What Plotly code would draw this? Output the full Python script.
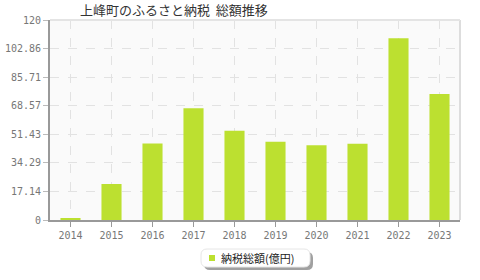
import plotly.graph_objects as go

years = ["2014", "2015", "2016", "2017", "2018", "2019", "2020", "2021", "2022", "2023"]
values = [0.8, 21.6, 45.9, 67.0, 53.6, 47.0, 44.8, 45.8, 109.0, 75.6]
ytick_vals = [0, 17.14, 34.29, 51.43, 68.57, 85.71, 102.86, 120]
ytick_text = ["0", "17.14", "34.29", "51.43", "68.57", "85.71", "102.86", "120"]
series_name = "納税総額(億円)"
title_text = "上峰町のふるさと納税  総額推移"
bar_color = "#bce030"

W, H = 480, 280
L, R, T, B = 50, 20, 20, 60
pw, ph = W - L - R, H - T - B

def px_x(x):
    return (x - L) / pw

def px_y(y):
    return (H - B - y) / ph

fig = go.Figure()
fig.add_trace(go.Bar(
    x=years, y=values, name=series_name,
    marker=dict(color=bar_color, line=dict(width=0)),
    width=0.49, showlegend=False,
))

def paper_path(x0, y0, x1, y1, r):
    X0, X1 = px_x(x0), px_x(x1)
    Y0, Y1 = px_y(y0), px_y(y1)
    rx = r / pw
    ry = r / ph
    return (f"M {X0+rx},{Y0} L {X1-rx},{Y0} Q {X1},{Y0} {X1},{Y0-ry} "
            f"L {X1},{Y1+ry} Q {X1},{Y1} {X1-rx},{Y1} L {X0+rx},{Y1} "
            f"Q {X0},{Y1} {X0},{Y1+ry} L {X0},{Y0-ry} Q {X0},{Y0} {X0+rx},{Y0} Z")

shapes = [
    dict(type="path", xref="paper", yref="paper", path=paper_path(204, 252, 313, 270, 6),
         fillcolor="#a0a0a0", line=dict(width=0), layer="above"),
    dict(type="path", xref="paper", yref="paper", path=paper_path(201, 249, 310, 267, 6),
         fillcolor="#ffffff", line=dict(color="#e6e6e6", width=1), layer="above"),
    dict(type="rect", xref="paper", yref="paper",
         x0=px_x(209), x1=px_x(215), y0=px_y(255), y1=px_y(261),
         fillcolor=bar_color, line=dict(width=0), layer="above"),
    dict(type="line", xref="paper", yref="paper", x0=1, x1=1, y0=0, y1=1,
         line=dict(color="#dddddd", width=2)),
    dict(type="line", xref="paper", yref="paper", x0=0, x1=1, y0=1, y1=1,
         line=dict(color="#e4e4e4", width=2)),
]

fig.update_layout(
    width=W, height=H,
    margin=dict(l=L, r=R, t=T, b=B, autoexpand=False),
    paper_bgcolor="#ffffff",
    plot_bgcolor="#fafafa",
    title=dict(text=title_text, xref="container", yref="container",
               x=80 / W, xanchor="left", y=1 - 10 / H, yanchor="middle",
               font=dict(family="Noto Sans CJK JP", size=13, color="#333333")),
    font=dict(family="Noto Sans CJK JP", size=10, color="#666666"),
    showlegend=False,
    shapes=shapes,
    annotations=[dict(text=series_name, xref="paper", yref="paper",
                      x=px_x(219), xanchor="left", y=px_y(258), yanchor="middle",
                      showarrow=False,
                      font=dict(family="Noto Sans CJK JP", size=11, color="#222222"))],
)

fig.update_xaxes(
    type="category", range=[-0.5, 9.5],
    showgrid=True, gridcolor="#e2e2e2", griddash="dash", gridwidth=1,
    showline=True, linecolor="#999999", linewidth=2,
    ticks="outside", ticklen=5, tickcolor="#999999",
    tickfont=dict(family="DejaVu Sans Mono", size=10, color="#777777"),
    zeroline=False,
)
fig.update_yaxes(
    range=[0, 120], tickvals=ytick_vals, ticktext=ytick_text,
    showgrid=True, gridcolor="#e2e2e2", griddash="dash", gridwidth=1,
    showline=True, linecolor="#999999", linewidth=2,
    ticks="outside", ticklen=5, tickcolor="#bbbbbb",
    tickfont=dict(family="DejaVu Sans Mono", size=10, color="#777777"),
    zeroline=False,
)

fig.write_html("out.html")
